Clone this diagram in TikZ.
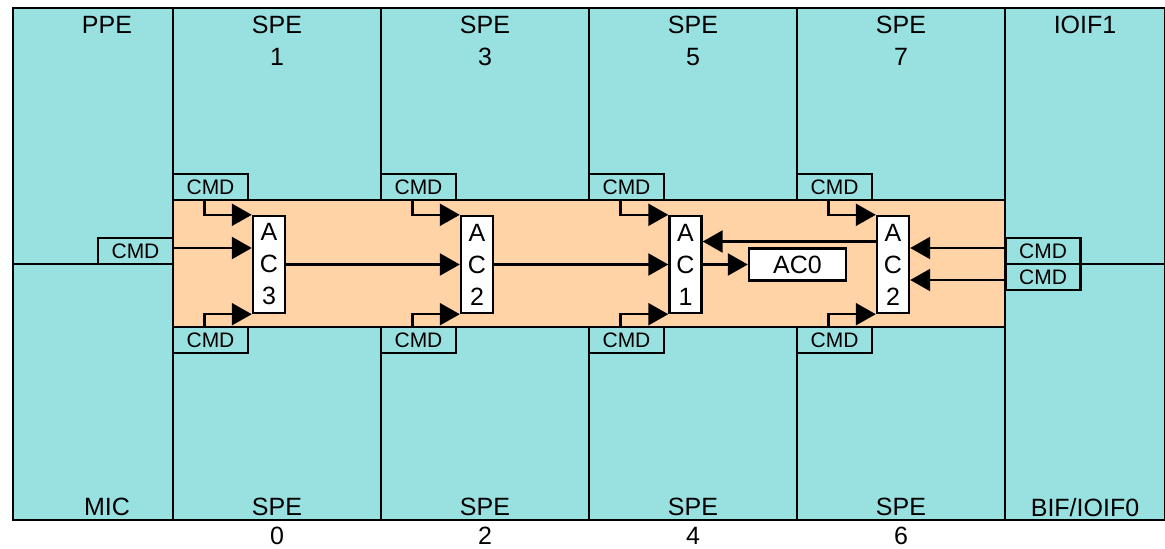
\documentclass[tikz,border=0pt]{standalone}
\usepackage{fontspec}
\setmainfont{Liberation Sans}
\usetikzlibrary{arrows.meta}
\definecolor{spefill}{RGB}{153,224,224}
\definecolor{busfill}{RGB}{255,211,165}
\begin{document}
\begin{tikzpicture}[x=1pt,y=-1pt,line width=2.4pt,>={Triangle[length=20pt,width=22pt]},
  lbl/.style={anchor=north,inner sep=0pt,align=center,font=\fontsize{25}{32}\selectfont},
  lowlbl/.style={lbl,font=\fontsize{25}{29}\selectfont},
  cmdbox/.style={draw,fill=spefill,minimum width=75pt,minimum height=26pt,inner sep=0pt,font=\fontsize{21}{24}\selectfont},
  acbox/.style={draw,fill=white,minimum width=32pt,minimum height=97pt,inner sep=0pt,align=center,font=\fontsize{25}{32}\selectfont}]
\useasboundingbox (0,0) rectangle (1165,549);
% cells
\fill[spefill] (13,8) rectangle (1165,520);
\draw (13,8) rectangle (1165,520);
\draw (13,264) -- (173,264);
\draw (1005,264) -- (1165,264);
\foreach \x in {173,381,589,797,1005} \draw (\x,8) -- (\x,520);
\node[lbl] (ppe) at (107,15) {PPE};
\node[lbl] (spe1) at (277,15) {SPE\\1};
\node[lbl] (spe3) at (485,15) {SPE\\3};
\node[lbl] (spe5) at (693,15) {SPE\\5};
\node[lbl] (spe7) at (901,15) {SPE\\7};
\node[lbl] (ioif1) at (1085,15) {IOIF1};
\node[lowlbl] (mic) at (107,497) {MIC};
\node[lowlbl] (spe0) at (277,497) {SPE\\0};
\node[lowlbl] (spe2) at (485,497) {SPE\\2};
\node[lowlbl] (spe4) at (693,497) {SPE\\4};
\node[lowlbl] (spe6) at (901,497) {SPE\\6};
\node[lowlbl] (bif) at (1085,497) {BIF/IOIF0};
% bus
\node[draw,fill=busfill,minimum width=832pt,minimum height=127pt] (bus) at (589,263.5) {};
\node[cmdbox] (cmdt1) at (210.5,187) {CMD};
\node[cmdbox] (cmdt3) at (418.5,187) {CMD};
\node[cmdbox] (cmdt5) at (626.5,187) {CMD};
\node[cmdbox] (cmdt7) at (834.5,187) {CMD};
\node[cmdbox] (cmdb0) at (210.5,340) {CMD};
\node[cmdbox] (cmdb2) at (418.5,340) {CMD};
\node[cmdbox] (cmdb4) at (626.5,340) {CMD};
\node[cmdbox] (cmdb6) at (834.5,340) {CMD};
\node[cmdbox] (cmdl) at (135.5,251) {CMD};
\node[cmdbox] (cmdr1) at (1043,251) {CMD};
\node[cmdbox] (cmdr2) at (1043,277) {CMD};
\node[acbox] (ac3) at (269,264.5) {A\\C\\3};
\node[acbox] (ac2) at (477,264.5) {A\\C\\2};
\node[acbox] (ac1) at (685.5,264.5) {A\\C\\1};
\node[acbox] (acr) at (893,264.5) {A\\C\\2};
\node[draw,fill=white,minimum width=97pt,minimum height=32pt,inner sep=0pt,font=\fontsize{25}{32}\selectfont] (ac0) at (797.5,264.5) {AC0};
% arrows
\draw[->] ([xshift=-6pt]cmdt1.south) |- (ac3.north west);
\draw[->] ([xshift=-6pt]cmdb0.north) |- (ac3.south west);
\draw[->] ([yshift=3pt]cmdl.east) -- ([yshift=3pt]cmdl.east -| ac3.west);
\draw[->] (ac3) -- (ac2);
\draw[->] ([xshift=-6pt]cmdt3.south) |- (ac2.north west);
\draw[->] ([xshift=-6pt]cmdb2.north) |- (ac2.south west);
\draw[->] (ac2) -- (ac1);
\draw[->] ([xshift=-6pt]cmdt5.south) |- (ac1.north west);
\draw[->] ([xshift=-6pt]cmdb4.north) |- (ac1.south west);
\draw[->] (ac1) -- (ac0);
\draw[->] ([yshift=23pt]acr.west) -- ([yshift=23pt]ac1.east);
\draw[->] ([xshift=-6pt]cmdt7.south) |- (acr.north west);
\draw[->] ([xshift=-6pt]cmdb6.north) |- (acr.south west);
\draw[->] ([yshift=3pt]cmdr1.west) -- ([yshift=3pt]cmdr1.west -| acr.east);
\draw[->] ([yshift=-3pt]cmdr2.west) -- ([yshift=-3pt]cmdr2.west -| acr.east);
\end{tikzpicture}
\end{document}
